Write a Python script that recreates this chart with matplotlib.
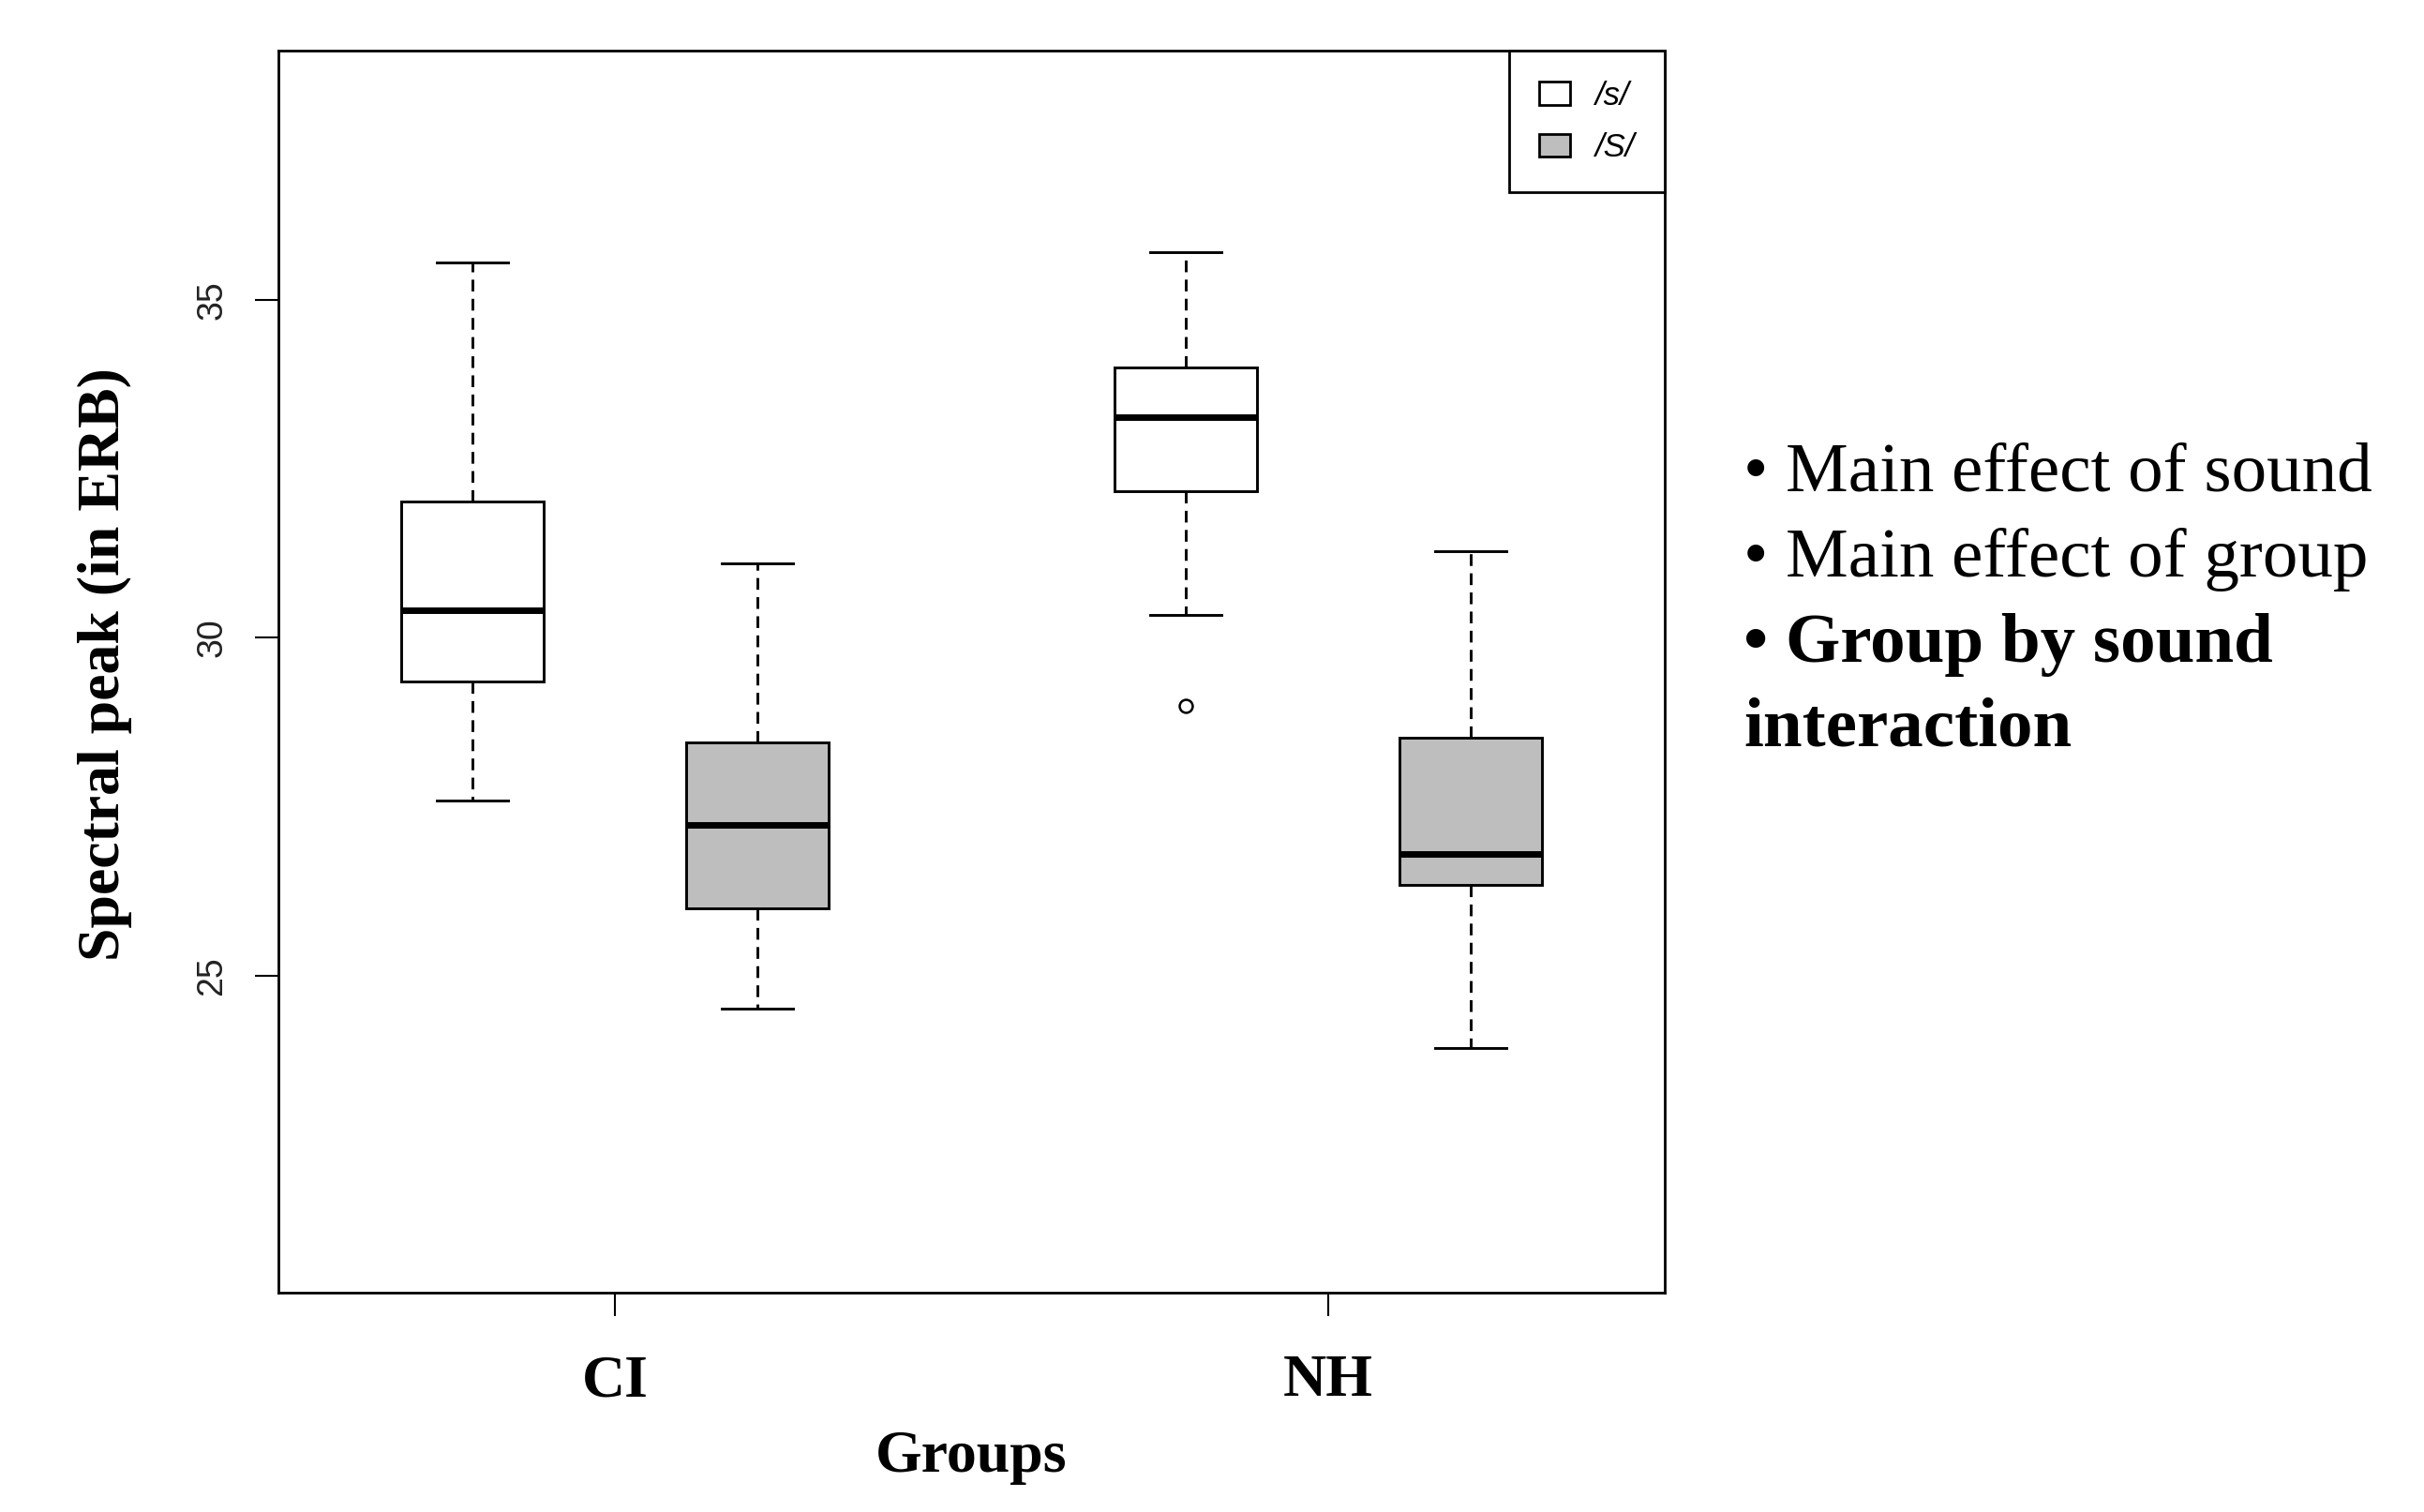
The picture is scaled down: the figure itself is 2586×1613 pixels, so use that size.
import matplotlib.pyplot as plt
from matplotlib.patches import Patch

# box statistics (ERB)
groups = ['CI', 'NH']
sounds = ['/s/', '/S/']
positions = [1, 2, 3.5, 4.5]
whislo = [27.60, 24.52, 30.34, 23.93]
q1 = [29.36, 26.00, 32.17, 26.35]
med = [30.41, 27.24, 33.26, 26.80]
q3 = [32.01, 28.45, 34.00, 28.52]
whishi = [35.55, 31.10, 35.71, 31.28]
fliers = [[], [], [29.0], []]
fills = ['white', '#bebebe', 'white', '#bebebe']

bullets = ['\u2022 Main effect of sound', '\u2022 Main effect of group',
           '\u2022 Group by sound', 'interaction']
bullet_weights = ['normal', 'normal', 'bold', 'bold']

serif = ['Liberation Serif', 'DejaVu Serif']
plt.rcParams['font.family'] = ['Liberation Sans', 'DejaVu Sans']

fig = plt.figure(figsize=(25.86, 16.13), dpi=100)
ax = fig.add_axes([0.1148, 0.1453, 0.572, 0.821])

stats = []
for i in range(4):
    stats.append(dict(whislo=whislo[i], q1=q1[i], med=med[i], q3=q3[i],
                      whishi=whishi[i], fliers=fliers[i]))

lw = 2.1
bp = ax.bxp(stats, positions=positions, widths=0.5, patch_artist=True,
            showfliers=True,
            boxprops=dict(linewidth=lw, edgecolor='black'),
            medianprops=dict(linewidth=5, color='black', solid_capstyle='butt'),
            whiskerprops=dict(linewidth=lw, color='black', linestyle=(0, (4.3, 2.7))),
            capprops=dict(linewidth=lw, color='black'),
            capwidths=0.25,
            flierprops=dict(marker='o', markersize=10, markerfacecolor='none',
                            markeredgecolor='black', markeredgewidth=1.8))
for patch, c in zip(bp['boxes'], fills):
    patch.set_facecolor(c)

ax.set_xlim(0.32, 5.18)
ax.set_ylim(20.32, 38.68)

ax.set_xticks([1.5, 4.0])
ax.set_xticklabels(groups, fontsize=46, fontweight='bold', family=serif)
ax.set_yticks([25, 30, 35])
ax.set_yticklabels(['25', '30', '35'], rotation=90, va='center', fontsize=27,
                   color='#222222')
ax.tick_params(axis='x', length=18, width=1.5, pad=30)
ax.tick_params(axis='y', length=18, width=1.5, pad=20)
for s in ax.spines.values():
    s.set_linewidth(2)

handles = [Patch(facecolor=c, edgecolor='black', linewidth=2) for c in fills[:2]]
leg = ax.legend(handles, sounds, loc='upper right', bbox_to_anchor=(1, 1),
                borderaxespad=0, fancybox=False, framealpha=1, edgecolor='black',
                prop=dict(family=['Liberation Sans'], style='italic', size=25),
                borderpad=0.9, labelspacing=0.65, handlelength=0.95,
                handleheight=0.7, handletextpad=0.8)
leg.get_frame().set_linewidth(2)

fig.text(112 / 2586, 1 - 709 / 1613, 'Spectral peak (in ERB)', rotation=90,
         ha='center', va='center', fontsize=46, fontweight='bold', family=serif)
fig.text(1036 / 2586, 1 - 1570 / 1613, 'Groups', ha='center', va='baseline',
         fontsize=46, fontweight='bold', family=serif)

baselines = [524, 615, 706, 795]
for txt, w, yb in zip(bullets, bullet_weights, baselines):
    fig.text(1860 / 2586, 1 - yb / 1613, txt, ha='left', va='baseline',
             fontsize=54, fontweight=w, family=serif)

fig.savefig('out.png', dpi=100)
